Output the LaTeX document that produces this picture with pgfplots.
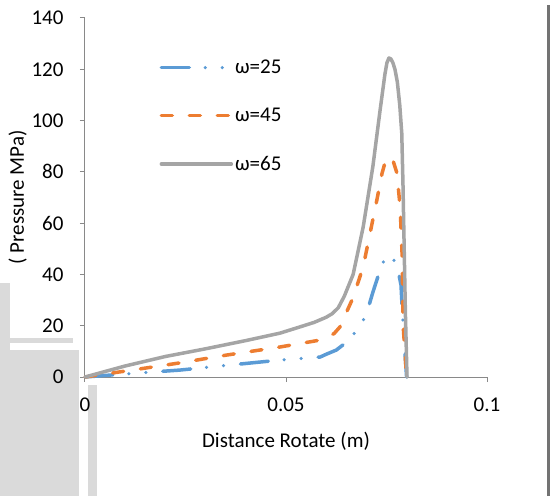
\documentclass[border=0pt]{standalone}
\usepackage{pgfplots}
\pgfplotsset{compat=1.18}
\usepackage{fontspec}
\setmainfont{Carlito}
\definecolor{cblue}{HTML}{5B9BD5}
\definecolor{corange}{HTML}{ED7D31}
\definecolor{cgray}{HTML}{A5A5A5}
\definecolor{caxis}{HTML}{898989}
\definecolor{cscan}{HTML}{DADADA}
\begin{document}
\begin{tikzpicture}
\useasboundingbox (0pt,0pt) rectangle (554pt,496pt);
% scan artefacts
\fill[cscan] (0pt,0pt) rectangle (10pt,213pt);
\fill[cscan] (0pt,153pt) rectangle (73pt,158pt);
\fill[cscan] (0pt,0pt) rectangle (79pt,146pt);
\fill[cscan] (88pt,0pt) rectangle (97pt,111pt);
\draw[color=black!55, line width=3pt] (548.5pt,0pt) -- (548.5pt,491pt);
\begin{axis}[
  at={(85pt,119pt)}, anchor=south west,
  scale only axis, width=402pt, height=359pt,
  xmin=0, xmax=0.1, ymin=0, ymax=140,
  xtick={0,0.05,0.1}, xticklabels={0,0.05,0.1},
  ytick={0,20,40,60,80,100,120,140},
  yticklabels={0,20,40,60,80,100,120,140},
  axis lines*=left,
  axis line style={caxis, line width=1pt, -},
  tick style={caxis, line width=1pt},
  major tick length=5pt, tick align=outside,
  every tick label/.append style={font=\fontsize{21}{25}\selectfont, text=black},
  xticklabel style={yshift=-12pt},
  yticklabel style={xshift=-13pt},
  xlabel={Distance Rotate (m)},
  ylabel={( Pressure MPa)},
  label style={font=\fontsize{21}{25}\selectfont},
  xlabel style={yshift=-14pt},
  ylabel style={yshift=-2pt},
  clip=false,
  legend style={draw=none, fill=none, at={(0.185,0.889)}, anchor=north west,
    font=\fontsize{21}{25}\selectfont, row sep=29pt, inner sep=0pt},
  legend cell align=left,
  legend image code/.code={\draw[#1] (0pt,0pt) -- (70pt,0pt);},
]
\addplot[cblue, line width=3.5pt, line cap=round,
  dash pattern=on 28pt off 16pt on 0pt off 17pt on 0pt off 17pt]
 coordinates {(0,0)(0.01,1.2)(0.0236,2.7)(0.035,4.5)(0.0485,6.6)(0.0585,7.8)(0.0602,9.0)(0.0625,10.5)(0.065,13.5)(0.0684,19.5)(0.0701,25)(0.0716,33)(0.0734,41.7)(0.0745,46)(0.0753,47.6)(0.0762,47)(0.0776,43.7)(0.0786,36)(0.0791,21)(0.0800,0)};
\addlegendentry{ω=25}
\addplot[corange, line width=3.5pt, line cap=round, dash pattern=on 11pt off 17pt]
 coordinates {(0,0)(0.01,2.3)(0.0236,5.5)(0.035,8.5)(0.0485,11.7)(0.0585,14.4)(0.0602,15.4)(0.062,17)(0.0634,19.5)(0.0667,31)(0.0692,43)(0.0709,56)(0.0726,69)(0.0739,79.5)(0.0748,84.5)(0.0756,86)(0.0766,84.5)(0.0776,79.5)(0.0784,66)(0.0789,47)(0.0791,21)(0.0800,0)};
\addlegendentry{ω=45}
\addplot[cgray, line width=3.5pt, line cap=round, line join=round]
 coordinates {(0,0)(0.01,4.3)(0.02,8.0)(0.03,11.0)(0.04,14.2)(0.0485,17.1)(0.0534,19.5)(0.057,21.3)(0.06,23.3)(0.0615,24.7)(0.063,27)(0.0645,31.5)(0.0667,40)(0.0692,58.5)(0.0716,82)(0.0734,104)(0.0746,118)(0.0751,122.5)(0.0756,124.4)(0.0761,124)(0.0766,122.5)(0.0771,120)(0.0777,115)(0.0783,106)(0.0788,95)(0.0791,75)(0.0794,50)(0.0797,25)(0.0801,0)};
\addlegendentry{ω=65}
\end{axis}
\end{tikzpicture}
\end{document}
